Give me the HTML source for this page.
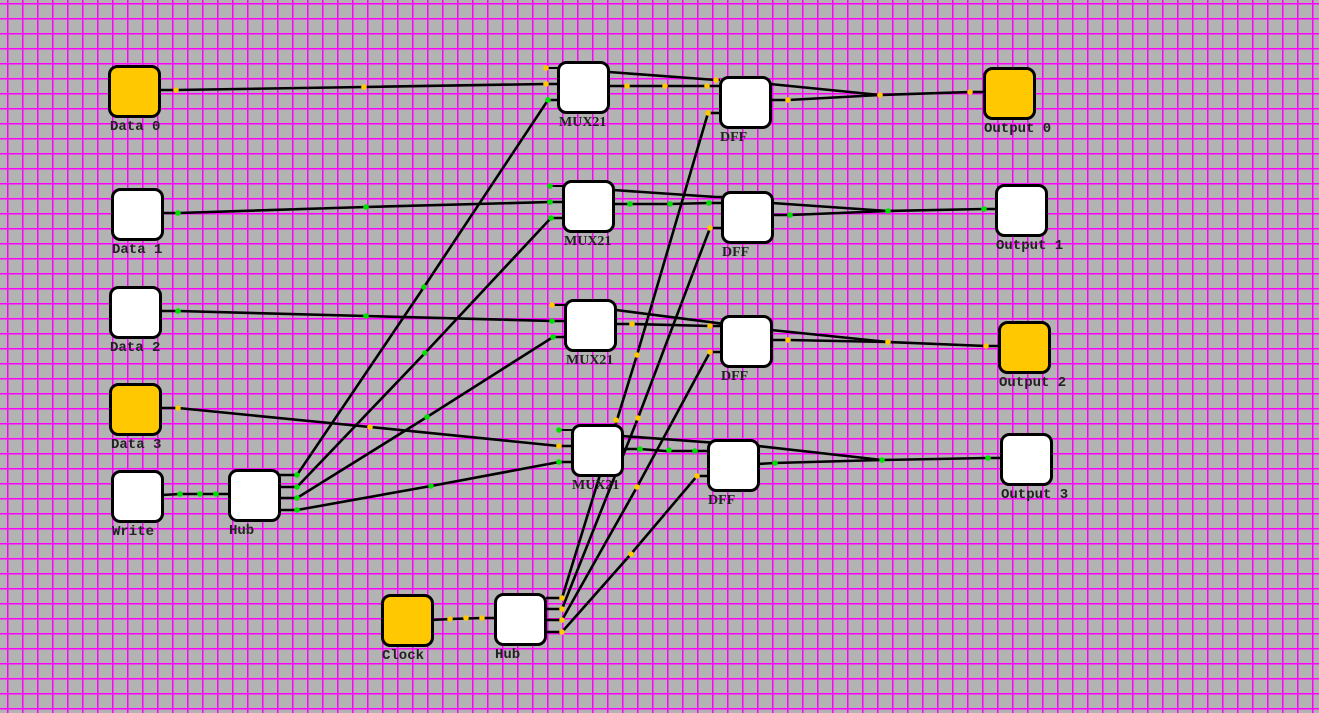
<!DOCTYPE html>
<html><head><meta charset="utf-8"><style>
html,body{margin:0;padding:0;background:#b3b3b3;}
svg{display:block}
.n{stroke:#000;stroke-width:3;}
.w{stroke:#000;stroke-width:2.6;fill:none;}
.s{stroke:#000;stroke-width:2;}
.t{font-family:"Liberation Mono",monospace;font-weight:bold;font-size:14px;fill:#222;}
.ts{font-family:"Liberation Serif",serif;font-weight:bold;font-size:14px;fill:#222;}
</style></head><body>
<svg width="1319" height="713" xmlns="http://www.w3.org/2000/svg">
<defs><pattern id="g" x="7" y="3" width="15" height="15" patternUnits="userSpaceOnUse">
<path d="M0.75 0V15M0 0.75H15" stroke="#ff00ff" stroke-width="1.5"/></pattern></defs>
<rect width="1319" height="713" fill="#b3b3b3"/>
<rect width="1319" height="713" fill="url(#g)"/>

<g class="w">
<polyline points="160,90 176,90 364,87 546,84 558,84"/>
<polyline points="163,213 178,213 366,207 550,202 563,202"/>
<polyline points="161,311 178,311 366,316 552,321 565,321"/>
<polyline points="161,408 178,408 370,427 559,446 572,446"/>
<polyline points="162,495 180,494 216,494 229,494"/>
<polyline points="432,620 450,619 482,618 495,618"/>
<polyline points="280,475 297,475 424,287 548,100 558,100"/>
<polyline points="280,487 297,487 425,353 551,218 563,218"/>
<polyline points="280,498 297,498 427,417 553,337 565,337"/>
<polyline points="280,510 297,510 431,486 559,462 572,462"/>
<polyline points="546,598 562,598 637,355 708,113 720,113"/>
<polyline points="546,609 562,609 638,418 710,228 722,228"/>
<polyline points="546,620 562,620 637,487 710,352 721,352"/>
<polyline points="546,632 562,632 631,554 697,476 708,476"/>
<polyline points="609,86 627,86 665,86 707,86 720,86"/>
<polyline points="613,204 630,204 670,204 709,203 722,203"/>
<polyline points="616,324 632,324 710,326 721,326"/>
<polyline points="622,449 640,449 665,451 697,451 708,451"/>
<polyline points="609,72 716,80 720,80"/>
<polyline points="613,190 716,197 722,197"/>
<polyline points="616,310 771,330 888,342"/>
<polyline points="622,436 758,446 882,460"/>
<polyline points="770,84 880,95"/>
<polyline points="770,100 788,100 880,95 970,92 984,92"/>
<polyline points="772,203 888,211"/>
<polyline points="772,215 790,215 888,211 984,209 996,209"/>
<polyline points="771,340 788,340 888,342 986,346 999,346"/>
<polyline points="758,464 774,463 882,460 988,458 1001,458"/>
</g>
<g class="s">
<line x1="546" y1="68" x2="558" y2="68"/>
<line x1="550" y1="186" x2="563" y2="186"/>
<line x1="552" y1="305" x2="565" y2="305"/>
<line x1="559" y1="430" x2="572" y2="430"/>
</g>

<g fill="#ffc800">
<circle cx="176" cy="90" r="2.8"/><circle cx="364" cy="87" r="2.8"/><circle cx="546" cy="84" r="2.8"/><circle cx="546" cy="68" r="2.8"/>
<circle cx="178" cy="408" r="2.8"/><circle cx="370" cy="427" r="2.8"/><circle cx="559" cy="446" r="2.8"/>
<circle cx="450" cy="619" r="2.8"/><circle cx="466" cy="618" r="2.8"/><circle cx="482" cy="618" r="2.8"/>
<circle cx="562" cy="598" r="2.8"/><circle cx="562" cy="609" r="2.8"/><circle cx="562" cy="620" r="2.8"/><circle cx="562" cy="632" r="2.8"/>
<circle cx="637" cy="355" r="2.8"/><circle cx="638" cy="418" r="2.8"/><circle cx="637" cy="487" r="2.8"/><circle cx="631" cy="554" r="2.8"/>
<circle cx="708" cy="113" r="2.8"/><circle cx="710" cy="228" r="2.8"/><circle cx="710" cy="352" r="2.8"/><circle cx="697" cy="476" r="2.8"/>
<circle cx="627" cy="86" r="2.8"/><circle cx="665" cy="86" r="2.8"/><circle cx="707" cy="86" r="2.8"/><circle cx="716" cy="80" r="2.8"/>
<circle cx="788" cy="100" r="2.8"/><circle cx="880" cy="95" r="2.8"/><circle cx="970" cy="92" r="2.8"/>
<circle cx="632" cy="324" r="2.8"/><circle cx="710" cy="326" r="2.8"/><circle cx="788" cy="340" r="2.8"/><circle cx="888" cy="342" r="2.8"/><circle cx="986" cy="346" r="2.8"/>
<circle cx="552" cy="305" r="2.8"/><circle cx="616" cy="420" r="2.8"/>
</g>
<g fill="#00e000">
<circle cx="548" cy="100" r="2.8"/><circle cx="424" cy="287" r="2.8"/>
<circle cx="178" cy="213" r="2.8"/><circle cx="366" cy="207" r="2.8"/><circle cx="550" cy="202" r="2.8"/><circle cx="550" cy="186" r="2.8"/>
<circle cx="178" cy="311" r="2.8"/><circle cx="366" cy="316" r="2.8"/><circle cx="552" cy="321" r="2.8"/>
<circle cx="180" cy="494" r="2.8"/><circle cx="200" cy="494" r="2.8"/><circle cx="216" cy="494" r="2.8"/>
<circle cx="297" cy="475" r="2.8"/><circle cx="297" cy="487" r="2.8"/><circle cx="297" cy="498" r="2.8"/><circle cx="297" cy="510" r="2.8"/>
<circle cx="425" cy="353" r="2.8"/><circle cx="427" cy="417" r="2.8"/><circle cx="431" cy="486" r="2.8"/>
<circle cx="551" cy="218" r="2.8"/><circle cx="553" cy="337" r="2.8"/><circle cx="559" cy="462" r="2.8"/><circle cx="559" cy="430" r="2.8"/>
<circle cx="630" cy="204" r="2.8"/><circle cx="670" cy="204" r="2.8"/><circle cx="709" cy="203" r="2.8"/>
<circle cx="790" cy="215" r="2.8"/><circle cx="888" cy="211" r="2.8"/><circle cx="984" cy="209" r="2.8"/>
<circle cx="640" cy="449" r="2.8"/><circle cx="669" cy="450" r="2.8"/><circle cx="695" cy="451" r="2.8"/>
<circle cx="775" cy="463" r="2.8"/><circle cx="882" cy="460" r="2.8"/><circle cx="988" cy="458" r="2.8"/>
</g>

<g class="n">
<rect x="109.5" y="66.5" width="50" height="50" rx="8" fill="#ffc800"/>
<rect x="112.5" y="189.5" width="50" height="50" rx="8" fill="#fff"/>
<rect x="110.5" y="287.5" width="50" height="50" rx="8" fill="#fff"/>
<rect x="110.5" y="384.5" width="50" height="50" rx="8" fill="#ffc800"/>
<rect x="112.5" y="471.5" width="50" height="50" rx="8" fill="#fff"/>
<rect x="229.5" y="470.5" width="50" height="50" rx="8" fill="#fff"/>
<rect x="382.5" y="595.5" width="50" height="50" rx="8" fill="#ffc800"/>
<rect x="495.5" y="594.5" width="50" height="50" rx="8" fill="#fff"/>
<rect x="558.5" y="62.5" width="50" height="50" rx="8" fill="#fff"/>
<rect x="563.5" y="181.5" width="50" height="50" rx="8" fill="#fff"/>
<rect x="565.5" y="300.5" width="50" height="50" rx="8" fill="#fff"/>
<rect x="572.5" y="425.5" width="50" height="50" rx="8" fill="#fff"/>
<rect x="720.5" y="77.5" width="50" height="50" rx="8" fill="#fff"/>
<rect x="722.5" y="192.5" width="50" height="50" rx="8" fill="#fff"/>
<rect x="721.5" y="316.5" width="50" height="50" rx="8" fill="#fff"/>
<rect x="708.5" y="440.5" width="50" height="50" rx="8" fill="#fff"/>
<rect x="984.5" y="68.5" width="50" height="50" rx="8" fill="#ffc800"/>
<rect x="996.5" y="185.5" width="50" height="50" rx="8" fill="#fff"/>
<rect x="999.5" y="322.5" width="50" height="50" rx="8" fill="#ffc800"/>
<rect x="1001.5" y="434.5" width="50" height="50" rx="8" fill="#fff"/>
</g>

<g class="t">
<text x="110" y="130">Data 0</text>
<text x="112" y="253">Data 1</text>
<text x="110" y="351">Data 2</text>
<text x="111" y="448">Data 3</text>
<text x="112" y="535">Write</text>
<text x="229" y="534">Hub</text>
<text x="382" y="659">Clock</text>
<text x="495" y="658">Hub</text>
<text x="984" y="132">Output 0</text>
<text x="996" y="249">Output 1</text>
<text x="999" y="386">Output 2</text>
<text x="1001" y="498">Output 3</text>
</g>
<g class="ts">
<text x="559" y="126">MUX21</text>
<text x="564" y="245">MUX21</text>
<text x="566" y="364">MUX21</text>
<text x="572" y="489">MUX21</text>
<text x="720" y="141">DFF</text>
<text x="722" y="256">DFF</text>
<text x="721" y="380">DFF</text>
<text x="708" y="504">DFF</text>
</g>
</svg>
</body></html>
